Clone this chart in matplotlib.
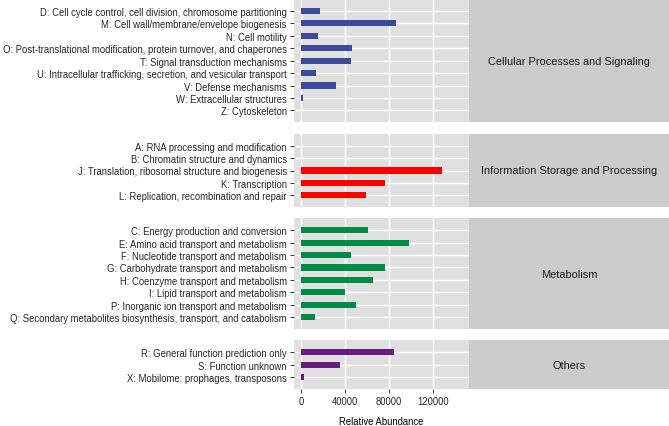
import matplotlib
matplotlib.use('Agg')
import matplotlib.pyplot as plt

plt.rcParams['font.family'] = ['Liberation Sans', 'DejaVu Sans']

W, H = 669, 427
fig = plt.figure(figsize=(W / 100, H / 100), dpi=100)

# ---- data ----
group_names = ["Cellular Processes and Signaling", "Information Storage and Processing",
               "Metabolism", "Others"]
group_colors = ["#3B4A9C", "#FF0000", "#008C46", "#6A1A80"]

cellular_labels = [
    "D: Cell cycle control, cell division, chromosome partitioning",
    "M: Cell wall/membrane/envelope biogenesis",
    "N: Cell motility",
    "O: Post-translational modification, protein turnover, and chaperones",
    "T: Signal transduction mechanisms",
    "U: Intracellular trafficking, secretion, and vesicular transport",
    "V: Defense mechanisms",
    "W: Extracellular structures",
    "Z: Cytoskeleton",
]
cellular_values = [17600, 86300, 15200, 46800, 45300, 14000, 32200, 2100, 100]

info_labels = [
    "A: RNA processing and modification",
    "B: Chromatin structure and dynamics",
    "J: Translation, ribosomal structure and biogenesis",
    "K: Transcription",
    "L: Replication, recombination and repair",
]
info_values = [0, 0, 128500, 76200, 58900]

metab_labels = [
    "C: Energy production and conversion",
    "E: Amino acid transport and metabolism",
    "F: Nucleotide transport and metabolism",
    "G: Carbohydrate transport and metabolism",
    "H: Coenzyme transport and metabolism",
    "I: Lipid transport and metabolism",
    "P: Inorganic ion transport and metabolism",
    "Q: Secondary metabolites biosynthesis, transport, and catabolism",
]
metab_values = [60700, 98100, 45300, 76800, 65300, 40100, 49800, 13100]

other_labels = [
    "R: General function prediction only",
    "S: Function unknown",
    "X: Mobilome: prophages, transposons",
]
other_values = [84400, 35200, 3000]

x_ticks = [0, 40000, 80000, 120000]
x_tick_labels = ["0", "40000", "80000", "120000"]

groups_labels = [cellular_labels, info_labels, metab_labels, other_labels]
groups_values = [cellular_values, info_values, metab_values, other_values]

# ---- layout (pixels) ----
panel_x0, panel_x1, strip_x1 = 294, 469, 669
panel_y = [(0, 123.3), (134.7, 208.3), (219.3, 330), (341.3, 390)]
PAD = 0.96
panel_bg = "#E0E0E0"
strip_bg = "#CCCCCC"


def ax_at(x0, y0, x1, y1):
    return fig.add_axes([x0 / W, 1 - y1 / H, (x1 - x0) / W, (y1 - y0) / H])


for i, (name, col, labels, vals) in enumerate(zip(group_names, group_colors,
                                                  groups_labels, groups_values)):
    y0, y1 = panel_y[i]
    ax = ax_at(panel_x0, y0, panel_x1, y1)
    n = len(labels)
    pos = list(range(n))
    ax.set_facecolor(panel_bg)
    for p in pos:
        ax.axhline(p, color="white", lw=1.0, zorder=1)
    for t in x_ticks:
        ax.axvline(t, color="white", lw=1.0, zorder=1)
    ax.barh(pos, vals, height=0.5, color=col, zorder=2)
    ax.set_ylim(n - 1 + PAD, -PAD)
    ax.set_xlim(-6400, 153000)
    ax.set_yticks(pos)
    ax.set_yticklabels(labels, fontsize=6.85, color="#262626")
    ax.tick_params(axis="y", length=3.2, width=0.7, color="#333333", pad=2)
    ax.set_xticks(x_ticks)
    if i == len(group_names) - 1:
        ax.set_xticklabels(x_tick_labels, fontsize=6.85, color="#262626")
        ax.tick_params(axis="x", length=3.2, width=0.7, color="#333333", pad=2)
        ax.set_xlabel("Relative Abundance", fontsize=6.85, color="black", labelpad=6.7)
    else:
        ax.tick_params(axis="x", length=0, labelbottom=False)
    for s in ax.spines.values():
        s.set_visible(False)

    sax = ax_at(panel_x1, y0, strip_x1, y1)
    sax.set_facecolor(strip_bg)
    sax.set_xticks([])
    sax.set_yticks([])
    for s in sax.spines.values():
        s.set_visible(False)
    sax.text(0.5, 0.5, name, ha="center", va="center", fontsize=7.9,
             color="#1A1A1A", transform=sax.transAxes)

fig.savefig("out.png", dpi=100, facecolor="white")
